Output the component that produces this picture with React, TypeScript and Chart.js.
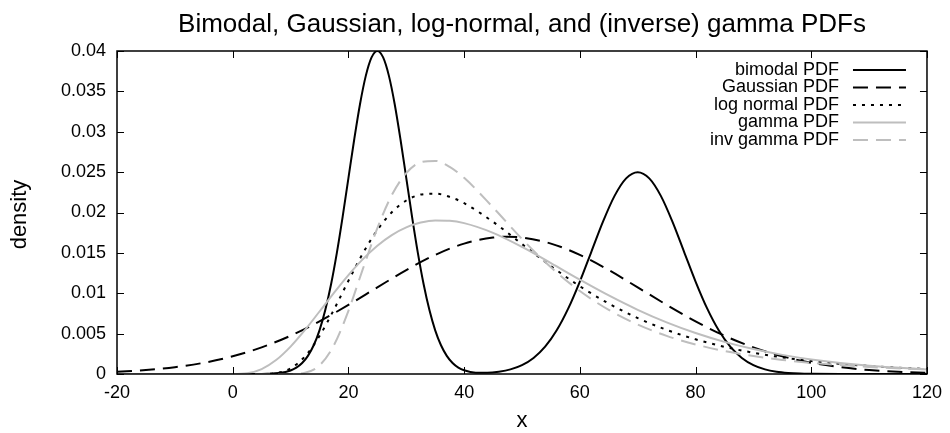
import React, { useEffect, useRef } from "react";
import { Chart, registerables } from "chart.js";

Chart.register(...registerables);

const TITLE = "Bimodal, Gaussian, log-normal, and (inverse) gamma PDFs";
const X_LABEL = "x";
const Y_LABEL = "density";

const xTicks = [-20, 0, 20, 40, 60, 80, 100, 120];
const xTickLabels = ["-20", "0", "20", "40", "60", "80", "100", "120"];
const yTicks = [0, 0.005, 0.01, 0.015, 0.02, 0.025, 0.03, 0.035, 0.04];
const yTickLabels = ["0", "0.005", "0.01", "0.015", "0.02", "0.025", "0.03", "0.035", "0.04"];

const seriesLabels = ["bimodal PDF", "Gaussian PDF", "log normal PDF", "gamma PDF", "inv gamma PDF"];

const bimodalX = [-20, -10, 0, 4, 6, 8, 10, 11, 12, 13, 14, 15, 16, 17, 18, 19, 20, 21, 22, 23, 24, 25, 26, 27, 28, 29, 30, 31, 32, 33, 34, 35, 36, 37, 38, 39, 40, 42, 44, 46, 48, 50, 52, 54, 56, 58, 60, 62, 64, 66, 68, 70, 72, 74, 76, 78, 80, 82, 84, 86, 88, 90, 92, 94, 96, 98, 100, 105, 110, 120];
const bimodalY = [0, 0, 0, 0, 0.00003, 0.00012, 0.00044, 0.00079, 0.00136, 0.00225, 0.00356, 0.00541, 0.00792, 0.01112, 0.01501, 0.01947, 0.02426, 0.02904, 0.03341, 0.03692, 0.03921, 0.04, 0.03921, 0.03692, 0.03341, 0.02904, 0.02426, 0.01947, 0.01501, 0.01112, 0.00792, 0.00541, 0.00356, 0.00225, 0.00137, 0.0008, 0.00046, 0.00017, 0.00016, 0.00029, 0.00057, 0.0011, 0.00199, 0.00338, 0.00541, 0.00812, 0.01145, 0.01516, 0.01887, 0.02206, 0.02423, 0.025, 0.02423, 0.02206, 0.01887, 0.01516, 0.01145, 0.00812, 0.00541, 0.00338, 0.00199, 0.0011, 0.00057, 0.00028, 0.00013, 0.00005, 0.00002, 0, 0, 0];

const gaussX = [-20, -15, -10, -5, 0, 5, 10, 15, 20, 25, 30, 35, 40, 45, 47.5, 50, 55, 60, 65, 70, 75, 80, 85, 90, 95, 100, 105, 110, 115, 120];
const gaussY = [0.00027, 0.00049, 0.00085, 0.00139, 0.00219, 0.0033, 0.00474, 0.00652, 0.00856, 0.01073, 0.01287, 0.01475, 0.01615, 0.0169, 0.017, 0.0169, 0.01615, 0.01475, 0.01287, 0.01073, 0.00856, 0.00652, 0.00474, 0.0033, 0.00219, 0.00139, 0.00085, 0.00049, 0.00027, 0.00014];

const lognX = [-20, 0, 5, 7.5, 10, 12.5, 15, 17.5, 20, 22.5, 25, 27.5, 30, 32.5, 35, 37.5, 40, 45, 50, 55, 60, 65, 70, 75, 80, 85, 90, 95, 100, 110, 120];
const lognY = [0, 0, 0.000005, 0.000114, 0.000698, 0.002189, 0.004706, 0.007977, 0.011542, 0.01494, 0.017834, 0.020035, 0.021485, 0.022222, 0.022333, 0.021937, 0.021151, 0.018839, 0.016096, 0.013362, 0.010871, 0.008722, 0.006928, 0.005467, 0.004295, 0.003365, 0.002632, 0.002058, 0.00161, 0.000987, 0.000609];

const gammaX = [-20, 0, 2.5, 5, 7.5, 10, 12.5, 15, 17.5, 20, 22.5, 25, 27.5, 30, 32.5, 35, 37.5, 40, 45, 50, 55, 60, 65, 70, 75, 80, 85, 90, 95, 100, 110, 120];
const gammaY = [0, 0, 0.000089, 0.00061, 0.001727, 0.003394, 0.00546, 0.00774, 0.010055, 0.012256, 0.014225, 0.015892, 0.017208, 0.018159, 0.018754, 0.019014, 0.018976, 0.018682, 0.01748, 0.015739, 0.013737, 0.011684, 0.009727, 0.00795, 0.006395, 0.005075, 0.003978, 0.003085, 0.00237, 0.001804, 0.001023, 0.000566];

const invGammaX = [-20, 0, 10, 12.5, 15, 17.5, 20, 22.5, 25, 27.5, 30, 32.5, 35, 37.5, 40, 45, 50, 55, 60, 65, 70, 75, 80, 85, 90, 95, 100, 110, 120];
const invGammaY = [0, 0, 0.000006, 0.000154, 0.001066, 0.00358, 0.007821, 0.01301, 0.018066, 0.022155, 0.024882, 0.026228, 0.026392, 0.02565, 0.024289, 0.020626, 0.016724, 0.013207, 0.010278, 0.007943, 0.006126, 0.004727, 0.00366, 0.002843, 0.00222, 0.001742, 0.001375, 0.000872, 0.000565];

const FONT = "'Liberation Sans', Arial, Helvetica, sans-serif";
const BLACK = "#000000";
const GRAY = "#bebebe";

export default function App() {
  const ref = useRef<HTMLCanvasElement>(null);

  useEffect(() => {
    if (!ref.current) return;
    const mk = (xs: number[], ys: number[]) => xs.map((x, i) => ({ x, y: ys[i] }));
    const xsList = [bimodalX, gaussX, lognX, gammaX, invGammaX];
    const ysList = [bimodalY, gaussY, lognY, gammaY, invGammaY];
    const styles = [
      { color: BLACK, dash: [] as number[] },
      { color: BLACK, dash: [15, 8] },
      { color: BLACK, dash: [3, 6] },
      { color: GRAY, dash: [] as number[] },
      { color: GRAY, dash: [15, 8] },
    ];
    const datasets = seriesLabels.map((label, i) => ({
      label,
      data: mk(xsList[i], ysList[i]),
      borderColor: styles[i].color,
      backgroundColor: styles[i].color,
      borderWidth: 2,
      borderDash: styles[i].dash,
      pointRadius: 0,
      fill: false,
      cubicInterpolationMode: "monotone" as const,
      order: seriesLabels.length - i,
    }));

    const framePlugin = {
      id: "gnuframe",
      afterDraw(chart: any) {
        const { ctx, chartArea } = chart;
        const { left, right, top, bottom } = chartArea;
        const xs = chart.scales.x;
        const ys = chart.scales.y;
        ctx.save();
        ctx.setLineDash([]);
        ctx.strokeStyle = BLACK;
        ctx.lineWidth = 1.5;
        ctx.strokeRect(left, top, right - left, bottom - top);
        const tl = 7;
        ctx.lineWidth = 1;
        ctx.beginPath();
        xTicks.forEach((v) => {
          const px = Math.round(xs.getPixelForValue(v)) + 0.5;
          ctx.moveTo(px, bottom);
          ctx.lineTo(px, bottom - tl);
          ctx.moveTo(px, top);
          ctx.lineTo(px, top + tl);
        });
        yTicks.forEach((v) => {
          const py = Math.round(ys.getPixelForValue(v)) + 0.5;
          ctx.moveTo(left, py);
          ctx.lineTo(left + tl, py);
          ctx.moveTo(right, py);
          ctx.lineTo(right - tl, py);
        });
        ctx.stroke();

        // title
        ctx.fillStyle = BLACK;
        ctx.font = `26px ${FONT}`;
        ctx.textAlign = "center";
        ctx.textBaseline = "alphabetic";
        ctx.fillText(TITLE, (left + right) / 2, 32);

        // x label
        ctx.font = `22px ${FONT}`;
        ctx.fillText(X_LABEL, (left + right) / 2, 427);

        // y label
        ctx.save();
        ctx.translate(26, (top + bottom) / 2 + 2);
        ctx.rotate(-Math.PI / 2);
        ctx.textAlign = "center";
        ctx.textBaseline = "alphabetic";
        ctx.font = `22px ${FONT}`;
        ctx.fillText(Y_LABEL, 0, 0);
        ctx.restore();

        // legend
        chart.data.datasets.forEach((ds: any, i: number) => {
          const y = top + 19 + i * 17.5;
          ctx.font = `18px ${FONT}`;
          ctx.textAlign = "right";
          ctx.textBaseline = "middle";
          ctx.fillStyle = BLACK;
          ctx.fillText(ds.label, right - 88, y);
          ctx.beginPath();
          ctx.setLineDash(ds.borderDash || []);
          ctx.strokeStyle = ds.borderColor;
          ctx.lineWidth = ds.borderWidth;
          ctx.moveTo(right - 74, y);
          ctx.lineTo(right - 21, y);
          ctx.stroke();
        });
        ctx.restore();
      },
    };

    const chart = new Chart(ref.current, {
      type: "line",
      data: { datasets: datasets as any },
      options: {
        animation: false,
        responsive: false,
        maintainAspectRatio: false,
        layout: { padding: { top: 51, right: 22, left: 0, bottom: 0 } },
        plugins: {
          legend: { display: false },
          title: { display: false },
          tooltip: { enabled: false },
        },
        elements: { point: { radius: 0 } },
        scales: {
          x: {
            type: "linear",
            min: -20,
            max: 120,
            grid: { display: false, drawTicks: false },
            border: { display: false },
            afterBuildTicks: (s: any) => {
              s.ticks = xTicks.map((v) => ({ value: v }));
            },
            afterFit: (s: any) => {
              s.height = 59;
            },
            ticks: {
              font: { family: FONT, size: 18 },
              color: BLACK,
              padding: 8,
              maxRotation: 0,
              autoSkip: false,
              callback: (v: any) => xTickLabels[xTicks.indexOf(Number(v))],
            },
          },
          y: {
            type: "linear",
            min: 0,
            max: 0.04,
            grid: { display: false, drawTicks: false },
            border: { display: false },
            afterBuildTicks: (s: any) => {
              s.ticks = yTicks.map((v) => ({ value: v }));
            },
            afterFit: (s: any) => {
              s.width = 117;
            },
            ticks: {
              font: { family: FONT, size: 18 },
              color: BLACK,
              padding: 11,
              autoSkip: false,
              callback: (v: any) => yTickLabels[yTicks.indexOf(Number(v))],
            },
          },
        },
      },
      plugins: [framePlugin],
    });
    return () => chart.destroy();
  }, []);

  return (
    <div style={{ position: "absolute", left: 0, top: 0, width: 950, height: 433, background: "#ffffff" }}>
      <canvas ref={ref} width={950} height={433} style={{ display: "block", width: 950, height: 433 }} />
    </div>
  );
}
